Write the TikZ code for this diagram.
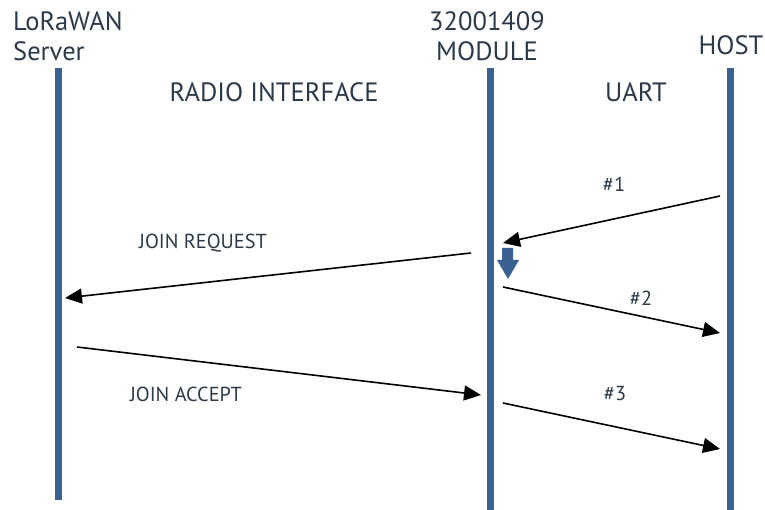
\documentclass[tikz,border=0pt]{standalone}
\usepackage{fontspec}
\setmainfont{PT Sans}
\usetikzlibrary{arrows.meta}
\definecolor{lifeblue}{HTML}{3A6192}
\definecolor{txt}{HTML}{2B3A4A}
\begin{document}
\begin{tikzpicture}[x=1pt,y=-1pt,
  life/.style={draw=lifeblue,line width=7pt},
  msg/.style={draw=black,line width=1.6pt,-{Triangle[length=17pt,width=15pt]}},
  big/.style={font=\fontsize{26.5}{30}\selectfont,text=txt,inner sep=0pt},
  small/.style={font=\fontsize{20.3}{24}\selectfont,text=txt,inner sep=0pt}]
\useasboundingbox (0,0) rectangle (765,510);
% lifelines
\coordinate (s1) at (58,68); \coordinate (s2) at (58,500);
\coordinate (m1) at (490,68); \coordinate (m2) at (490,510);
\coordinate (h1) at (730,68); \coordinate (h2) at (730,510);
\draw[life] (s1) -- (s2);
\draw[life] (m1) -- (m2);
\draw[life] (h1) -- (h2);
% headers
\node[big,anchor=west,align=left] (srv) at (13,36) {LoRaWAN\\Server};
\node[big,align=center] (mod) at (487,36) {32001409\\MODULE};
\node[big] (host) at (731,45) {HOST};
\node[big] (radio) at (274,92) {RADIO INTERFACE};
\node[big] (uart) at (636,92) {UART};
% labels
\node[small] (l1) at (614,184) {\#1};
\node[small] (lreq) at (203,243) {JOIN REQUEST};
\node[small] (l2) at (641,298) {\#2};
\node[small] (lacc) at (186,394) {JOIN ACCEPT};
\node[small] (l3) at (615,394) {\#3};
% message endpoints
\coordinate (a1) at (720,196); \coordinate (b1) at (503,243);
\coordinate (a2) at (471,253); \coordinate (b2) at (65,298);
\coordinate (a3) at (503,287); \coordinate (b3) at (720,333);
\coordinate (a4) at (77,347);  \coordinate (b4) at (481,395);
\coordinate (a5) at (503,403); \coordinate (b5) at (720,449);
\draw[msg] (a1) -- (b1);
\draw[msg] (a2) -- (b2);
\draw[msg] (a3) -- (b3);
\draw[msg] (a4) -- (b4);
\draw[msg] (a5) -- (b5);
% processing arrow
\fill[lifeblue] (502,248) -- (513,248) -- (513,260) -- (519,260) -- (508,279) -- (497,260) -- (502,260) -- cycle;
\end{tikzpicture}
\end{document}
